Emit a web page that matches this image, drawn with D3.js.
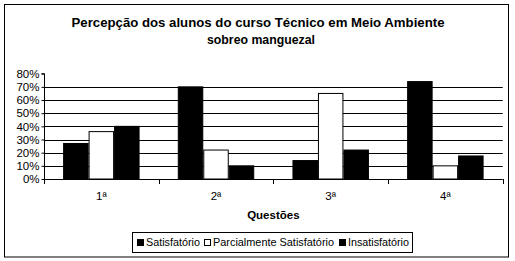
<!DOCTYPE html>
<html>
<head>
<meta charset="utf-8">
<script src="https://cdn.jsdelivr.net/npm/d3@7"></script>
<style>
  html, body { margin: 0; padding: 0; background: #fff; }
  svg { display: block; font-family: "Liberation Sans", Arial, sans-serif; }
</style>
</head>
<body>
<div id="chart"></div>
<script>
const questions = ['1ª', '2ª', '3ª', '4ª'];
const seriesNames = ['Satisfatório', 'Parcialmente Satisfatório', 'Insatisfatório'];
const satisfatorio = [0.27, 0.70, 0.14, 0.74];
const parcial = [0.36, 0.22, 0.65, 0.10];
const insatisfatorio = [0.40, 0.10, 0.22, 0.175];
const yTicks = [0, 0.1, 0.2, 0.3, 0.4, 0.5, 0.6, 0.7, 0.8];
const seriesFill = ['#000', '#fff', '#000'];

const width = 515;
const height = 261;

const svg = d3.select('#chart')
  .append('svg')
  .attr('width', width)
  .attr('height', height);

// outer chart border
svg.append('rect')
  .attr('x', 4.5).attr('y', 4.5)
  .attr('width', 504).attr('height', 252.5)
  .attr('fill', '#fff')
  .attr('stroke', '#000');

// title
const title = svg.append('text')
  .attr('text-anchor', 'middle')
  .attr('font-size', 13.5)
  .attr('font-weight', 'bold')
  .attr('fill', '#000');
title.append('tspan').attr('x', 258).attr('y', 27)
  .attr('textLength', 373).attr('lengthAdjust', 'spacingAndGlyphs')
  .text('Percepção dos alunos do curso Técnico em Meio Ambiente');
title.append('tspan').attr('x', 261).attr('y', 44)
  .attr('textLength', 108).attr('lengthAdjust', 'spacingAndGlyphs')
  .text('sobreo manguezal');

const plot = { left: 44, right: 502.7, top: 73.7, bottom: 179 };

const xScale = d3.scaleBand()
  .domain(questions)
  .range([plot.left, plot.right])
  .padding(0);

const yScale = d3.scaleLinear()
  .domain([0, 0.8])
  .range([plot.bottom, plot.top]);

// bars inside a group: gap width 150%
const barW = xScale.bandwidth() / 4.5;
const xInner = d3.scaleBand()
  .domain(d3.range(3))
  .range([barW * 0.75, barW * 3.75])
  .padding(0);

// gridlines (no line at 80%)
svg.append('g')
  .selectAll('line')
  .data(yTicks.filter(d => d > 0 && d < 0.8))
  .join('line')
  .attr('x1', plot.left)
  .attr('x2', plot.right)
  .attr('y1', d => Math.round(yScale(d)) + 0.5)
  .attr('y2', d => Math.round(yScale(d)) + 0.5)
  .attr('stroke', '#000');

const rows = questions.map((q, i) => ({
  q,
  values: [satisfatorio[i], parcial[i], insatisfatorio[i]]
}));

svg.append('g')
  .selectAll('g')
  .data(rows)
  .join('g')
  .attr('transform', d => `translate(${xScale(d.q)},0)`)
  .selectAll('rect')
  .data(d => d.values.map((v, k) => ({ v, k })))
  .join('rect')
  .attr('x', d => xInner(d.k) + 0.5)
  .attr('width', xInner.bandwidth() - 1)
  .attr('y', d => yScale(d.v))
  .attr('height', d => plot.bottom - yScale(d.v))
  .attr('fill', d => seriesFill[d.k])
  .attr('stroke', '#000');

// y axis
const yAxis = d3.axisLeft(yScale)
  .tickValues(yTicks)
  .tickFormat(d3.format('.0%'))
  .tickSize(3)
  .tickPadding(2);

const gy = svg.append('g')
  .attr('transform', `translate(${plot.left + 0.5},0)`)
  .call(yAxis);
gy.select('.domain').attr('d', `M-3,${plot.top}H0V${plot.bottom}`);
gy.selectAll('text')
  .attr('font-size', 11.5)
  .attr('font-family', '"Liberation Sans", Arial, sans-serif')
  .attr('fill', '#000');

// x axis: ticks on category boundaries
svg.append('line')
  .attr('x1', plot.left).attr('x2', plot.right)
  .attr('y1', plot.bottom + 0.5).attr('y2', plot.bottom + 0.5)
  .attr('stroke', '#000');

const bounds = questions.map(q => xScale(q)).concat([xScale(questions[3]) + xScale.bandwidth()]);
svg.append('g')
  .selectAll('line')
  .data(bounds)
  .join('line')
  .attr('x1', d => Math.round(d) + 0.5)
  .attr('x2', d => Math.round(d) + 0.5)
  .attr('y1', plot.bottom)
  .attr('y2', plot.bottom + 5)
  .attr('stroke', '#000');

svg.append('g')
  .selectAll('text')
  .data(questions)
  .join('text')
  .attr('x', d => xScale(d) + xScale.bandwidth() / 2)
  .attr('y', 200)
  .attr('text-anchor', 'middle')
  .attr('font-size', 11.5)
  .text(d => d);

svg.append('text')
  .attr('x', (plot.left + plot.right) / 2)
  .attr('y', 219)
  .attr('text-anchor', 'middle')
  .attr('font-size', 11.5)
  .attr('font-weight', 'bold')
  .text('Questões');

// legend
const legend = svg.append('g');
legend.append('rect')
  .attr('x', 132.5).attr('y', 232.5)
  .attr('width', 280).attr('height', 20)
  .attr('fill', '#fff').attr('stroke', '#000');

const legendX = [137, 204, 339];
const legendTextW = [54, 121, 61];
const legendItems = legend.selectAll('g')
  .data(seriesNames)
  .join('g')
  .attr('transform', (d, i) => `translate(${legendX[i]},0)`);

legendItems.append('rect')
  .attr('x', 0.5).attr('y', 239.5)
  .attr('width', 6).attr('height', 6)
  .attr('fill', (d, i) => seriesFill[i])
  .attr('stroke', '#000');

legendItems.append('text')
  .attr('x', 9)
  .attr('y', 246)
  .attr('font-size', 11.5)
  .attr('textLength', (d, i) => legendTextW[i])
  .attr('lengthAdjust', 'spacingAndGlyphs')
  .text(d => d);
</script>
</body>
</html>
